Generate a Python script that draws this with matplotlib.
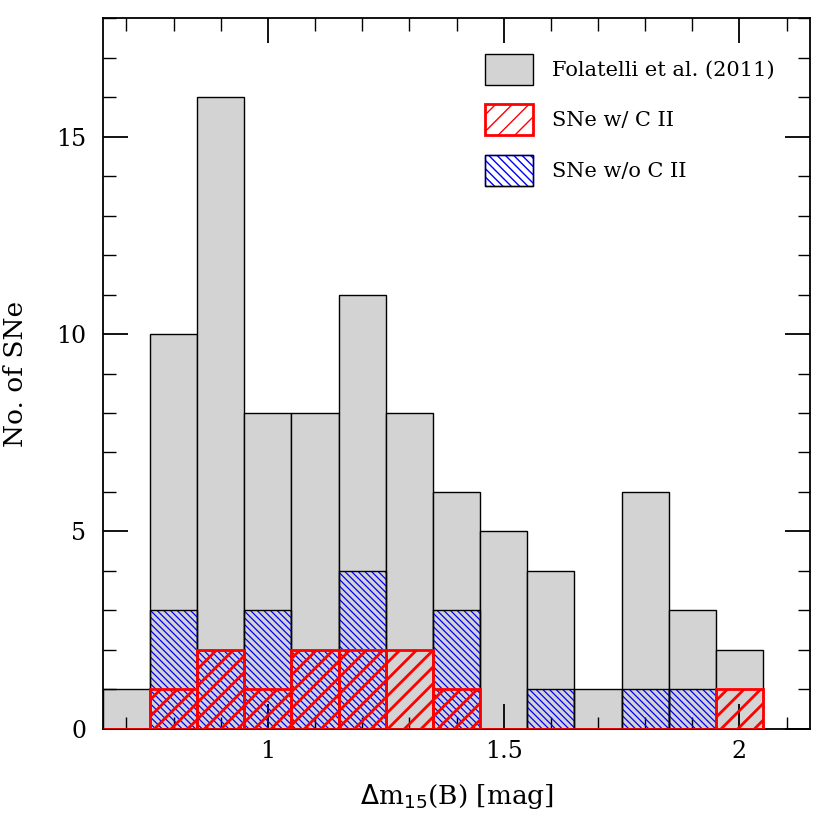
import numpy as np
import matplotlib
matplotlib.use('Agg')
import matplotlib.pyplot as plt
from matplotlib.patches import Patch
from matplotlib.ticker import MultipleLocator

plt.rcParams['font.family'] = 'DejaVu Serif'

# histogram bins (delta m15(B)), width 0.1
bin_left = [0.65, 0.75, 0.85, 0.95, 1.05, 1.15, 1.25, 1.35, 1.45, 1.55, 1.65, 1.75, 1.85, 1.95]
n_folatelli = [1, 10, 16, 8, 8, 11, 8, 6, 5, 4, 1, 6, 3, 2]
n_no_c = [0, 3, 2, 3, 2, 4, 0, 3, 0, 1, 0, 1, 1, 0]
n_with_c = [0, 1, 2, 1, 2, 2, 2, 1, 0, 0, 0, 0, 0, 1]
labels = ['Folatelli et al. (2011)', 'SNe w/ C II', 'SNe w/o C II']

width = 0.1
fig = plt.figure(figsize=(8.3, 8.3), dpi=100)
ax = fig.add_axes([0.124, 0.122, 0.852, 0.856])

# full sample
ax.bar(bin_left, n_folatelli, width=width, align='edge', color='lightgray',
       edgecolor='black', linewidth=1.0, zorder=1)

# without C II: blue hatch, black outline
with plt.rc_context({'hatch.linewidth': 0.9}):
    ax.bar(bin_left, n_no_c, width=width, align='edge', color='none',
           edgecolor='blue', hatch='\\\\\\\\\\', linewidth=0, zorder=2)
ax.bar(bin_left, n_no_c, width=width, align='edge', color='none',
       edgecolor='black', linewidth=1.0, zorder=3)

# with C II: red hatch, red outline
with plt.rc_context({'hatch.linewidth': 2.0}):
    ax.bar(bin_left, n_with_c, width=width, align='edge', color='none',
           edgecolor='red', hatch='//', linewidth=2.0, zorder=4)

ax.set_xlim(0.65, 2.15)
ax.set_ylim(0, 18)
ax.xaxis.set_major_locator(MultipleLocator(0.5))
ax.xaxis.set_minor_locator(MultipleLocator(0.1))
ax.yaxis.set_major_locator(MultipleLocator(5))
ax.yaxis.set_minor_locator(MultipleLocator(1))
ax.xaxis.set_major_formatter(plt.FuncFormatter(lambda v, p: f'{v:g}'))
ax.tick_params(which='both', direction='in', top=True, right=True, labelsize=17)
ax.tick_params(which='major', length=18, width=1.3)
ax.tick_params(which='minor', length=9, width=1.0)
ax.tick_params(axis='x', which='major', pad=8)
ax.tick_params(axis='y', which='major', pad=12)
for s in ax.spines.values():
    s.set_linewidth(1.3)

ax.set_xlabel(r'$\Delta$m$_{15}$(B) [mag]', fontsize=19, labelpad=14)
ax.set_ylabel('No. of SNe', fontsize=19, labelpad=20)

with plt.rc_context({'hatch.linewidth': 2.0}):
    h_red = Patch(facecolor='none', edgecolor='red', hatch='//', linewidth=2.0)
with plt.rc_context({'hatch.linewidth': 0.9}):
    h_blue = Patch(facecolor='none', edgecolor='blue', hatch='\\\\\\\\')
h_blue_edge = Patch(facecolor='none', edgecolor='black', linewidth=1.0)
h_gray = Patch(facecolor='lightgray', edgecolor='black', linewidth=1.0)
ax.legend([h_gray, h_red, (h_blue, h_blue_edge)], labels, loc='upper right',
          frameon=False, fontsize=15, handlelength=2.3, handleheight=1.9,
          labelspacing=0.95, handletextpad=0.9, borderaxespad=1.3)

fig.savefig('out.png', dpi=100)
